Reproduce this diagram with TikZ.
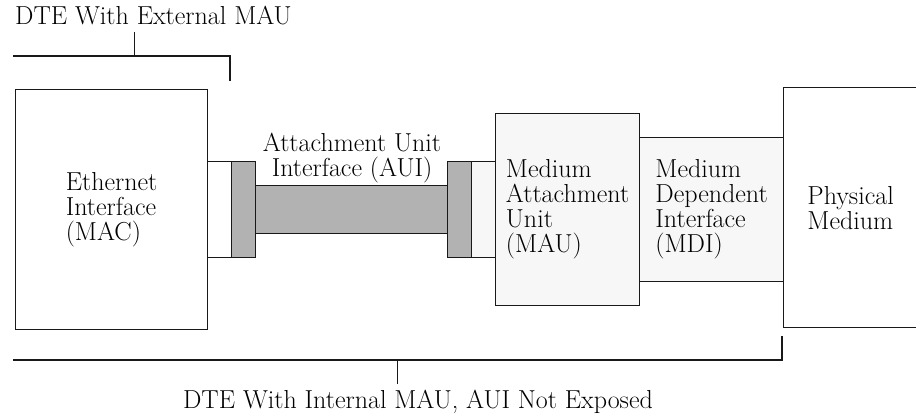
\documentclass[tikz,border=0pt]{standalone}
\begin{document}
\begin{tikzpicture}[x=1pt, y=-1pt,
  part/.style={draw=black!90, line width=1.2pt, inner sep=0pt, anchor=north west, fill=white},
  light/.style={part, fill=black!3},
  plug/.style={part, fill=black!30},
  lbl/.style={font=\fontsize{26}{25}\selectfont, align=left, inner sep=0pt},
  rule/.style={draw=black!90, line width=1.2pt},
  tick/.style={draw=black!90, line width=1pt}]
\clip (0,0) rectangle (916,414);

% station side
\node[part, minimum width=192pt, minimum height=240pt] (mac) at (15,89) {};
\node[part, minimum width=24pt, minimum height=96pt] (lsock) at (207,161) {};
\node[plug, minimum width=24pt, minimum height=96pt] (lflange) at (231,161) {};
% AUI cable
\node[plug, minimum width=192pt, minimum height=48pt] (cable) at (255,185) {};
\node[plug, minimum width=24pt, minimum height=96pt] (rflange) at (447,161) {};
\node[light, minimum width=24pt, minimum height=96pt] (rsock) at (471,161) {};
% transceiver and medium
\node[light, minimum width=144pt, minimum height=192pt] (mau) at (495,113) {};
\node[light, minimum width=144pt, minimum height=144pt] (mdi) at (639,137) {};
\node[part, minimum width=136pt, minimum height=240pt] (phys) at (783,87) {};

% box labels
\node[lbl] (macl) at (mac.center) {Ethernet\\Interface\\(MAC)};
\node[lbl, align=center] (auil) at (352,158.5) {Attachment Unit\\Interface (AUI)};
\node[lbl] (maul) at (mau.center) {Medium\\Attachment\\Unit\\(MAU)};
\node[lbl] (mdil) at (mdi.center) {Medium\\Dependent\\Interface\\(MDI)};
\node[lbl] (physl) at ([xshift=-1pt]phys.center) {Physical\\Medium};

% bracket: DTE with external MAU
\node[lbl, anchor=base west] (extl) at (15,25) {DTE With External MAU};
\coordinate (extA) at (13,56);
\coordinate (extB) at (230,56);
\coordinate (extC) at (230,81);
\coordinate (extT) at (134,56);
\coordinate (extU) at (134,32);
\draw[rule] (extA) -- (extB) -- (extC);
\draw[tick] (extT) -- (extU);

% bracket: DTE with internal MAU
\node[lbl, anchor=base] (intl) at (418,408) {DTE With Internal MAU, AUI Not Exposed};
\coordinate (intA) at (13,360);
\coordinate (intB) at (782,360);
\coordinate (intC) at (782,336);
\coordinate (intT) at (397,360);
\coordinate (intU) at (397,384);
\draw[rule] (intA) -- (intB) -- (intC);
\draw[tick] (intT) -- (intU);
\end{tikzpicture}
\end{document}
